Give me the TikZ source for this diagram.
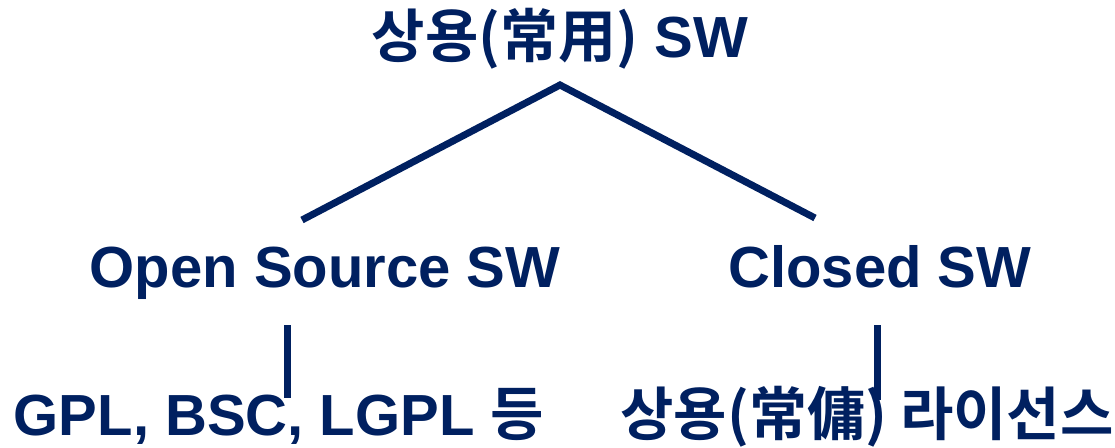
\documentclass[tikz,border=0pt]{standalone}
\usepackage{fontspec}
\setmainfont{Liberation Sans}
\newfontfamily\kr{Noto Sans CJK KR}[BoldFont={Noto Sans CJK KR Bold}]
\usetikzlibrary{positioning}
\definecolor{navy}{HTML}{002060}

\begin{document}
\begin{tikzpicture}[
    x=1pt, y=-1pt,
    % Label styles
    label/.style={font=\bfseries\fontsize{58}{60}\selectfont, text=navy, anchor=base, inner sep=0pt},
    % Connector style
    branch/.style={draw=navy, line width=7pt},
]
\useasboundingbox (0,0) rectangle (1115,447);

% Labels
\node[label] (root) at (560,57) {{\kr 상용(常用)} SW};
\node[label] (open) at (325,287) {Open Source SW};
\node[label] (closed) at (880,287) {Closed SW};
\node[label] (gpl) at (279,435) {GPL, BSC, LGPL {\kr 등}};
\node[label] (lic) at (867,435) {{\kr 상용(常傭) 라이선스}};

% Connector end points
\coordinate (apex) at (560,85);
\coordinate (open-top) at (302,220);
\coordinate (closed-top) at (815,218);
\coordinate (open-low) at (287,325);
\coordinate (gpl-top) at (287,398);
\coordinate (closed-low) at (877,325);
\coordinate (lic-top) at (877,400);

% Connectors
\draw[branch] (open-top) -- (apex) -- (closed-top);
\draw[branch] (open-low) -- (gpl-top);
\draw[branch] (closed-low) -- (lic-top);

\end{tikzpicture}
\end{document}
